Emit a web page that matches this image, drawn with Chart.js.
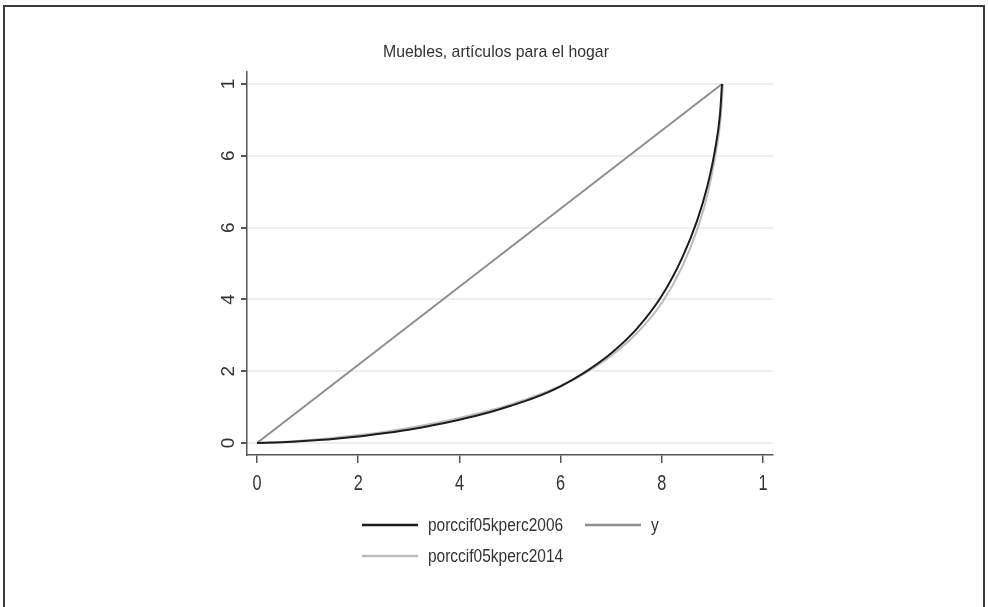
<!DOCTYPE html>
<html>
<head>
<meta charset="utf-8">
<script src="https://cdn.jsdelivr.net/npm/chart.js@4.4.1/dist/chart.umd.min.js"></script>
<style>
  html, body { margin: 0; padding: 0; background: #fff; }
  #wrap { position: relative; width: 988px; height: 607px; overflow: hidden; }
  #frame { position: absolute; left: 3px; top: 5px; width: 978px; height: 640px;
           border: 2px solid #3a3a3a; border-bottom: none; }
  canvas { position: absolute; left: 0; top: 0; }
</style>
</head>
<body>
<div id="wrap">
  <div id="frame"></div>
  <canvas id="myChart" width="988" height="607"></canvas>
</div>
<script>
// values
const xShare = [0, 0.05, 0.1, 0.15, 0.2, 0.25, 0.3, 0.35, 0.4, 0.45, 0.5, 0.55, 0.6,
                0.65, 0.7, 0.75, 0.8, 0.84, 0.87, 0.89, 0.905, 0.915, 0.919];
const perc2006 = [0, 0.002, 0.006, 0.011, 0.018, 0.027, 0.037, 0.05, 0.065, 0.082, 0.103, 0.127, 0.158,
                  0.199, 0.25, 0.317, 0.41, 0.515, 0.62, 0.715, 0.815, 0.915, 1.0];
const xShare2014 = [0, 0.05, 0.1, 0.15, 0.2, 0.25, 0.3, 0.35, 0.4, 0.45, 0.5, 0.55, 0.6,
                    0.65, 0.7, 0.75, 0.8, 0.84, 0.87, 0.89, 0.905, 0.916, 0.921];
const perc2014 = [0, 0.003, 0.008, 0.014, 0.022, 0.031, 0.042, 0.055, 0.07, 0.087, 0.107, 0.131, 0.16,
                  0.196, 0.243, 0.305, 0.39, 0.49, 0.595, 0.69, 0.795, 0.9, 1.0];
const diagX = [0, 0.919];
const diagY = [0, 1];

const tickValues = [0, 0.2, 0.4, 0.6, 0.8, 1];
const xTickLabels = ['0', '2', '4', '6', '8', '1'];
const yTickLabels = ['0', '2', '4', '6', '6', '1'];

const titleText = 'Muebles, artículos para el hogar';
const seriesNames = ['porccif05kperc2006', 'porccif05kperc2014', 'y'];
const seriesColors = ['#1c1c1c', '#bcbcbc', '#8e8e8e'];

const fontFam = '"Liberation Sans", Arial, sans-serif';

function pts(xs, ys) {
  return xs.map((x, i) => ({ x: x, y: ys[i] }));
}

// text squeezed sideways like the reference's narrow lettering
function squeezed(ctx, text, x, y, sx, align) {
  ctx.save();
  ctx.translate(x, y);
  ctx.scale(sx, 1);
  ctx.textAlign = align;
  ctx.fillText(text, 0, 0);
  ctx.restore();
}

const extras = {
  id: 'extras',
  afterDraw(chart) {
    const ctx = chart.ctx;
    const xs = chart.scales.x;
    const ys = chart.scales.y;
    ctx.save();
    ctx.fillStyle = '#333';
    ctx.textBaseline = 'middle';

    // title
    ctx.font = '17px ' + fontFam;
    squeezed(ctx, titleText, (chart.chartArea.left + chart.chartArea.right) / 2 - 14, 52, 0.93, 'center');

    // x labels
    ctx.font = '22px ' + fontFam;
    tickValues.forEach((v, i) => {
      squeezed(ctx, xTickLabels[i], xs.getPixelForValue(v), 484, 0.74, 'center');
    });

    // y labels, rotated
    ctx.font = '19px ' + fontFam;
    ctx.textAlign = 'center';
    tickValues.forEach((v, i) => {
      const py = ys.getPixelForValue(v);
      ctx.save();
      ctx.translate(229, py);
      ctx.rotate(-Math.PI / 2);
      ctx.fillText(yTickLabels[i], 0, 0);
      ctx.restore();
    });

    // legend
    const items = [
      { ds: 0, x: 362, y: 525 },
      { ds: 2, x: 585, y: 525 },
      { ds: 1, x: 362, y: 556 }
    ];
    ctx.font = '18px ' + fontFam;
    items.forEach(it => {
      const d = chart.data.datasets[it.ds];
      ctx.strokeStyle = d.borderColor;
      ctx.lineWidth = 2.5;
      ctx.beginPath();
      ctx.moveTo(it.x, it.y);
      ctx.lineTo(it.x + 56, it.y);
      ctx.stroke();
      squeezed(ctx, d.label, it.x + 66, it.y + 1, 0.86, 'left');
    });
    ctx.restore();
  }
};

document.addEventListener('DOMContentLoaded', function () {
  const ctx = document.getElementById('myChart').getContext('2d');
  new Chart(ctx, {
    type: 'line',
    data: {
      datasets: [
        { label: seriesNames[0], data: pts(xShare, perc2006), borderColor: seriesColors[0] },
        { label: seriesNames[1], data: pts(xShare2014, perc2014), borderColor: seriesColors[1] },
        { label: seriesNames[2], data: pts(diagX, diagY), borderColor: seriesColors[2] }
      ]
    },
    options: {
      responsive: false,
      animation: false,
      datasets: {
        line: { borderWidth: 2, pointRadius: 0, fill: false, cubicInterpolationMode: 'monotone' }
      },
      layout: { padding: { left: 207, right: 215, top: 72, bottom: 0 } },
      plugins: {
        legend: { display: false },
        tooltip: { enabled: false },
        title: { display: false }
      },
      scales: {
        x: {
          type: 'linear',
          min: -0.0198,
          max: 1.0198,
          afterBuildTicks: s => { s.ticks = tickValues.map(v => ({ value: v })); },
          afterFit: s => { s.height = 152; },
          border: { color: '#555', width: 1.5 },
          grid: { drawOnChartArea: false, drawTicks: true, tickLength: 8, tickColor: '#555', lineWidth: 1.5 },
          ticks: { display: false }
        },
        y: {
          type: 'linear',
          min: -0.0334,
          max: 1.0334,
          afterBuildTicks: s => { s.ticks = tickValues.map(v => ({ value: v })); },
          afterFit: s => { s.width = 40; },
          border: { color: '#555', width: 1.5 },
          grid: { color: '#eeeeee', lineWidth: 2, drawTicks: true, tickLength: 6, tickColor: '#555' },
          ticks: { display: false }
        }
      }
    },
    plugins: [extras]
  });
});
</script>
</body>
</html>
